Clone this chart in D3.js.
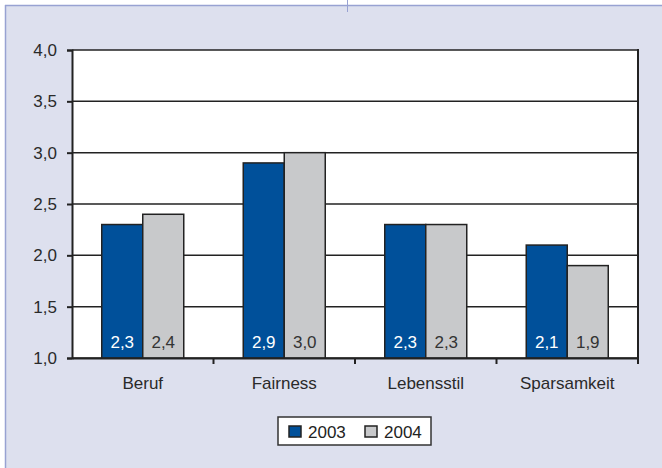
<!DOCTYPE html>
<html><head><meta charset="utf-8">
<script src="https://cdn.jsdelivr.net/npm/d3@7"></script>
<style>body{margin:0;background:#fff}svg{display:block}text{font-family:"Liberation Sans",Arial,sans-serif}</style>
</head><body>
<svg id="c" width="662" height="468"></svg>
<script>
const categories = ["Beruf", "Fairness", "Lebensstil", "Sparsamkeit"];
const seriesNames = ["2003", "2004"];
const values2003 = [2.3, 2.9, 2.3, 2.1];
const values2004 = [2.4, 3.0, 2.3, 1.9];
const yTicks = [1.0, 1.5, 2.0, 2.5, 3.0, 3.5, 4.0];
const colors = ["#00509a", "#c8c9cb"];
const labelColors = ["#ffffff", "#333333"];
const FS = 17;

const svg = d3.select("#c");
// panel
svg.append("rect").attr("x", 5).attr("y", 6).attr("width", 662).attr("height", 470).attr("fill", "#dde0ee");
svg.append("line").attr("x1", 5).attr("x2", 662).attr("y1", 5.5).attr("y2", 5.5).attr("stroke", "#98a2d2").attr("stroke-width", 1.5);
svg.append("line").attr("x1", 5.5).attr("x2", 5.5).attr("y1", 5).attr("y2", 468).attr("stroke", "#98a2d2").attr("stroke-width", 1.5);
svg.append("line").attr("x1", 347.5).attr("x2", 347.5).attr("y1", 0).attr("y2", 12).attr("stroke", "#98a2d2").attr("stroke-width", 1);

const L = 72, R = 638, T = 50, B = 358;
const x = d3.scaleBand().domain(categories).range([L, R]);
const y = d3.scaleLinear().domain([1, 4]).range([B, T]);
const inner = d3.scaleBand().domain(seriesNames).range([0, 82]);

svg.append("rect").attr("x", L).attr("y", T).attr("width", R - L).attr("height", B - T).attr("fill", "#fff");

// gridlines
svg.append("g").selectAll("line").data(yTicks).join("line")
  .attr("x1", L).attr("x2", R).attr("y1", d => y(d)).attr("y2", d => y(d))
  .attr("stroke", "#222").attr("stroke-width", 1.5);

// y axis
const fmt = d => d3.format(".1f")(d).replace(".", ",");
const ya = svg.append("g").attr("transform", `translate(${L},0)`)
  .call(d3.axisLeft(y).tickValues(yTicks).tickFormat(fmt).tickSize(5).tickPadding(10));
ya.select(".domain").attr("stroke", "#222").attr("stroke-width", 2);
ya.selectAll(".tick line").attr("stroke", "#222").attr("stroke-width", 2);
ya.selectAll("text").attr("font-size", FS).attr("fill", "#2a2a2a").attr("font-family", "Liberation Sans, Arial, sans-serif");

// right border
svg.append("line").attr("x1", R).attr("x2", R).attr("y1", T - 1).attr("y2", B + 1).attr("stroke", "#222").attr("stroke-width", 2);

// bars
const data = categories.map((c, i) => ({ c, vals: [values2003[i], values2004[i]] }));
const groupOffset = (x.bandwidth() - 82) / 2;
const g = svg.append("g");
data.forEach(d => {
  d.vals.forEach((v, k) => {
    const bx = x(d.c) + groupOffset + inner(seriesNames[k]);
    g.append("rect").attr("x", bx).attr("y", y(v)).attr("width", inner.bandwidth()).attr("height", B - y(v))
      .attr("fill", colors[k]).attr("stroke", "#222").attr("stroke-width", 1.5);
    g.append("text").attr("x", bx + inner.bandwidth() / 2).attr("y", B - 10).attr("text-anchor", "middle")
      .attr("font-size", FS).attr("fill", labelColors[k]).text(fmt(v));
  });
});

// x axis
const xa = svg.append("g").attr("transform", `translate(0,${B})`)
  .call(d3.axisBottom(x).tickSize(0).tickPadding(19));
xa.select(".domain").attr("stroke", "#222").attr("stroke-width", 2);
xa.selectAll("text").attr("font-size", FS).attr("fill", "#2a2a2a").attr("font-family", "Liberation Sans, Arial, sans-serif");
svg.append("g").selectAll("line").data(categories).join("line")
  .attr("x1", d => x(d) + x.bandwidth()).attr("x2", d => x(d) + x.bandwidth())
  .attr("y1", B).attr("y2", B + 6).attr("stroke", "#222").attr("stroke-width", 2);

// legend
const lg = svg.append("g").attr("transform", "translate(278,417)");
lg.append("rect").attr("width", 153).attr("height", 28).attr("fill", "#fff").attr("stroke", "#333").attr("stroke-width", 1.5);
seriesNames.forEach((s, k) => {
  const ox = 11 + k * 76;
  lg.append("rect").attr("x", ox).attr("y", 9).attr("width", 12).attr("height", 11)
    .attr("fill", colors[k]).attr("stroke", "#222").attr("stroke-width", 1.5);
  lg.append("text").attr("x", ox + 19).attr("y", 20.5).attr("font-size", FS).attr("fill", "#222").text(s);
});
</script>
</body></html>
